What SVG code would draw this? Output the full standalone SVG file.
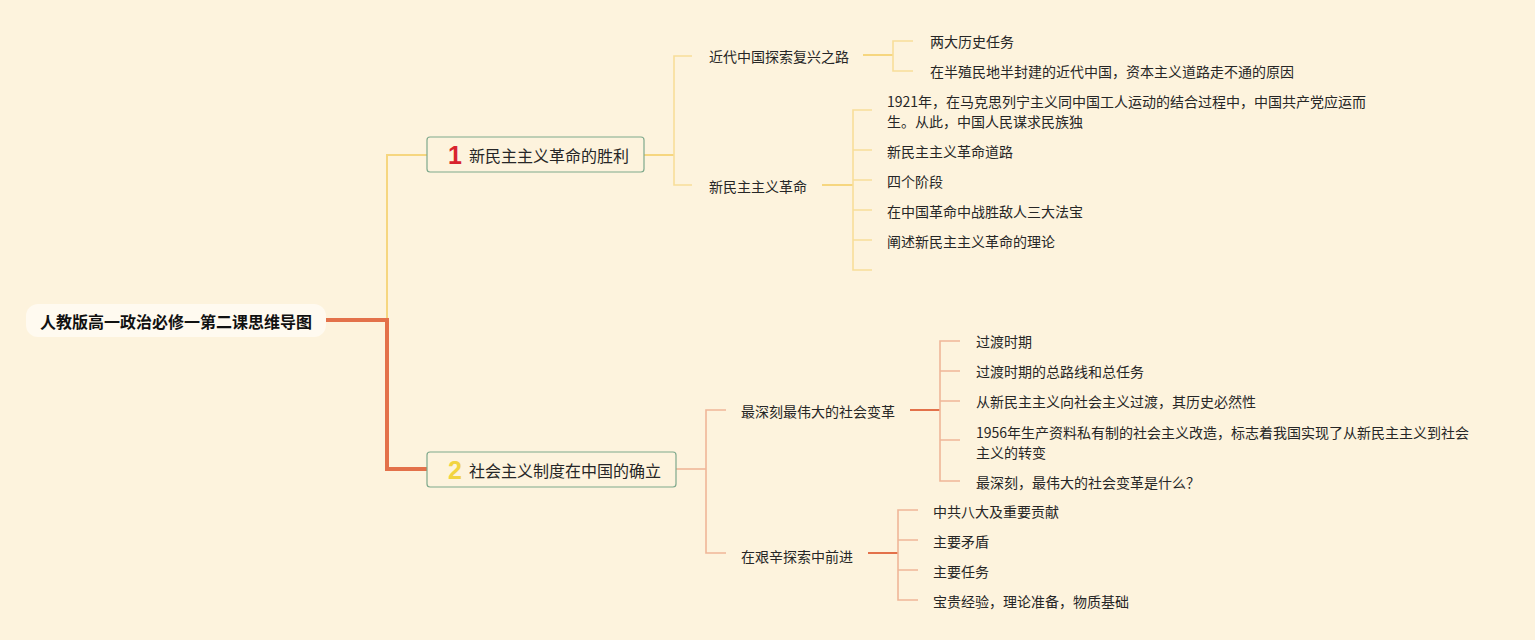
<svg xmlns="http://www.w3.org/2000/svg" width="1535" height="640" viewBox="0 0 1535 640">
<style>
text{font-family:"Noto Sans CJK SC","Noto Sans",sans-serif;dominant-baseline:central;fill:#262626}
.root{font-size:16px;font-weight:bold;fill:#111}
.br{font-size:16px}
.t{font-size:14px}
.box{fill:#fdf3dd;stroke:#7fa98c;stroke-width:1.2}
.num{font-family:"Liberation Sans","DejaVu Sans",sans-serif;font-size:25px;font-weight:bold}
.y1{fill:none;stroke:#f6d67f;stroke-width:2}
.y2{fill:none;stroke:#f8de99;stroke-width:1.6}
.o1{fill:none;stroke:#e3714a;stroke-width:2}
.o2{fill:none;stroke:#efb698;stroke-width:1.6}
</style>
<rect width="1535" height="640" fill="#fdf3dd"/>
<g id="connectors">
<path class="y1" d="M387 320 V155 H427"/>
<path d="M326 320 H387 V469 H427" fill="none" stroke="#e3714a" stroke-width="4"/>
<path class="y1" d="M644 155 H674"/>
<path class="y2" d="M692 56 H674 V185 H692"/>
<path class="y1" d="M863 55 H893"/>
<path class="y2" d="M913 41 H893 V71 H913"/>
<path class="y1" d="M822 185 H853"/>
<path class="y2" d="M872 110 H853 V270 H872 M853 150 H872 M853 180 H872 M853 210 H872 M853 240 H872"/>
<path class="o2" d="M676 469 H706"/>
<path class="o2" d="M726 410 H706 V553 H726"/>
<path class="o1" d="M910 410 H940"/>
<path class="o2" d="M960 341 H940 V481 H960 M940 371 H960 M940 401 H960 M940 440 H960"/>
<path class="o1" d="M868 553 H898"/>
<path class="o2" d="M918 510 H898 V600 H918 M898 540 H918 M898 570 H918"/>
</g>
<g id="root">
<rect x="26" y="304" width="300" height="33" rx="12" fill="#fffaf0"/>
<text class="root" x="176" y="321" text-anchor="middle">人教版高一政治必修一第二课思维导图</text>
</g>
<g id="b1">
<rect class="box" x="427" y="137" width="217" height="35" rx="3"/>
<text class="num" x="455" y="155" text-anchor="middle" fill="#d8232f" style="fill:#d8232f">1</text>
<text class="br" x="469" y="155">新民主主义革命的胜利</text>
</g>
<g id="b2">
<rect class="box" x="427" y="452" width="249" height="35" rx="3"/>
<text class="num" x="455" y="470" text-anchor="middle" style="fill:#f2d440">2</text>
<text class="br" x="469" y="470">社会主义制度在中国的确立</text>
</g>
<g id="s1"><text class="t" x="709" y="56">近代中国探索复兴之路</text></g>
<g id="l1"><text class="t" x="930" y="41">两大历史任务</text></g>
<g id="l2"><text class="t" x="930" y="71">在半殖民地半封建的近代中国，资本主义道路走不通的原因</text></g>
<g id="s2"><text class="t" x="709" y="186">新民主主义革命</text></g>
<g id="l3"><text class="t" x="887" y="101">1921年，在马克思列宁主义同中国工人运动的结合过程中，中国共产党应运而</text><text class="t" x="887" y="121">生。从此，中国人民谋求民族独</text></g>
<g id="l4"><text class="t" x="887" y="151">新民主主义革命道路</text></g>
<g id="l5"><text class="t" x="887" y="181">四个阶段</text></g>
<g id="l6"><text class="t" x="887" y="211">在中国革命中战胜敌人三大法宝</text></g>
<g id="l7"><text class="t" x="887" y="241">阐述新民主主义革命的理论</text></g>
<g id="s3"><text class="t" x="741" y="411">最深刻最伟大的社会变革</text></g>
<g id="l8"><text class="t" x="976" y="341">过渡时期</text></g>
<g id="l9"><text class="t" x="976" y="371">过渡时期的总路线和总任务</text></g>
<g id="l10"><text class="t" x="976" y="401">从新民主主义向社会主义过渡，其历史必然性</text></g>
<g id="l11"><text class="t" x="976" y="432">1956年生产资料私有制的社会主义改造，标志着我国实现了从新民主主义到社会</text><text class="t" x="976" y="452">主义的转变</text></g>
<g id="l12"><text class="t" x="976" y="482">最深刻，最伟大的社会变革是什么？</text></g>
<g id="s4"><text class="t" x="741" y="556">在艰辛探索中前进</text></g>
<g id="l13"><text class="t" x="933" y="511">中共八大及重要贡献</text></g>
<g id="l14"><text class="t" x="933" y="541">主要矛盾</text></g>
<g id="l15"><text class="t" x="933" y="571">主要任务</text></g>
<g id="l16"><text class="t" x="933" y="601">宝贵经验，理论准备，物质基础</text></g>
</svg>
